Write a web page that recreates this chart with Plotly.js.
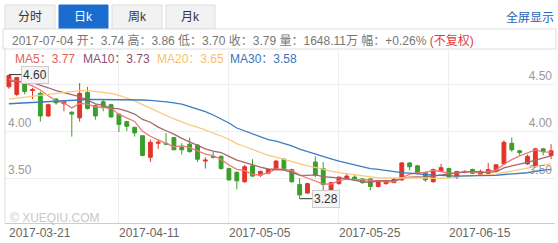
<!DOCTYPE html>
<html><head><meta charset="utf-8">
<script src="https://cdn.plot.ly/plotly-3.0.1.min.js"></script>
<style>html,body{margin:0;padding:0;background:#fff;}#chart{width:558px;height:243px;}</style>
</head><body><div id="chart"></div>
<script>
const dates = ['2017-03-21','2017-03-22','2017-03-23','2017-03-24','2017-03-27','2017-03-28','2017-03-29','2017-03-30','2017-03-31','2017-04-03','2017-04-05','2017-04-06','2017-04-07','2017-04-10','2017-04-11','2017-04-12','2017-04-13','2017-04-18','2017-04-19','2017-04-20','2017-04-21','2017-04-24','2017-04-25','2017-04-26','2017-04-27','2017-04-28','2017-05-02','2017-05-04','2017-05-05','2017-05-08','2017-05-09','2017-05-10','2017-05-11','2017-05-12','2017-05-15','2017-05-16','2017-05-17','2017-05-18','2017-05-19','2017-05-22','2017-05-23','2017-05-24','2017-05-25','2017-05-26','2017-05-29','2017-05-31','2017-06-01','2017-06-02','2017-06-05','2017-06-06','2017-06-07','2017-06-08','2017-06-09','2017-06-12','2017-06-13','2017-06-14','2017-06-15','2017-06-16','2017-06-19','2017-06-20','2017-06-21','2017-06-22','2017-06-23','2017-06-26','2017-06-27','2017-06-28','2017-06-29','2017-06-30','2017-07-03','2017-07-04'];
const open  = [4.47,4.39,4.56,4.43,4.40,4.16,4.34,4.29,4.20,4.14,4.41,4.27,4.31,4.28,4.18,4.10,4.04,3.95,3.72,3.87,3.87,3.93,3.83,3.86,3.85,3.68,3.73,3.73,3.60,3.56,3.46,3.63,3.53,3.55,3.59,3.70,3.59,3.43,3.34,3.67,3.60,3.35,3.44,3.49,3.51,3.49,3.49,3.41,3.44,3.45,3.48,3.66,3.63,3.56,3.46,3.57,3.60,3.51,3.56,3.59,3.54,3.55,3.57,3.65,3.87,3.79,3.65,3.62,3.81,3.74];
const high  = [4.60,4.57,4.58,4.46,4.42,4.29,4.35,4.31,4.21,4.51,4.47,4.28,4.34,4.29,4.19,4.10,4.04,3.95,3.91,3.91,3.98,3.93,3.87,3.93,3.86,3.72,3.78,3.74,3.61,3.57,3.64,3.70,3.58,3.60,3.69,3.71,3.60,3.50,3.45,3.73,3.67,3.46,3.51,3.55,3.53,3.50,3.50,3.48,3.48,3.50,3.67,3.67,3.64,3.57,3.60,3.65,3.61,3.57,3.58,3.60,3.59,3.66,3.65,3.90,3.93,3.80,3.75,3.82,3.82,3.86];
const low   = [4.45,4.37,4.39,4.34,4.10,4.15,4.28,4.21,3.94,4.10,4.23,4.12,4.21,4.14,3.99,4.00,3.94,3.73,3.67,3.81,3.85,3.80,3.75,3.77,3.67,3.60,3.71,3.59,3.47,3.38,3.45,3.51,3.51,3.54,3.58,3.59,3.45,3.28,3.33,3.51,3.35,3.34,3.43,3.48,3.48,3.44,3.37,3.40,3.43,3.45,3.47,3.58,3.54,3.46,3.45,3.56,3.50,3.49,3.55,3.54,3.53,3.54,3.56,3.64,3.78,3.74,3.64,3.61,3.74,3.70];
const close = [4.59,4.57,4.42,4.44,4.16,4.28,4.30,4.31,4.18,4.40,4.24,4.16,4.26,4.15,4.07,4.05,3.98,3.74,3.88,3.88,3.86,3.80,3.80,3.78,3.70,3.69,3.72,3.60,3.48,3.47,3.62,3.52,3.57,3.59,3.68,3.60,3.46,3.32,3.44,3.53,3.43,3.45,3.51,3.52,3.49,3.45,3.41,3.47,3.47,3.49,3.66,3.62,3.55,3.48,3.59,3.61,3.51,3.57,3.57,3.55,3.57,3.59,3.64,3.88,3.80,3.77,3.73,3.81,3.78,3.79];
const ma5  = [4.55,4.53,4.51,4.48,4.436,4.374,4.32,4.298,4.246,4.294,4.286,4.258,4.248,4.242,4.176,4.138,4.102,3.998,3.944,3.906,3.868,3.832,3.844,3.824,3.788,3.754,3.738,3.698,3.638,3.592,3.578,3.538,3.532,3.554,3.596,3.592,3.58,3.53,3.50,3.47,3.436,3.434,3.472,3.488,3.48,3.484,3.476,3.468,3.458,3.458,3.50,3.542,3.558,3.56,3.58,3.57,3.548,3.552,3.57,3.562,3.554,3.57,3.584,3.646,3.696,3.736,3.764,3.798,3.778,3.776];
const ma10 = [4.53,4.53,4.525,4.515,4.49,4.46,4.43,4.41,4.39,4.365,4.33,4.289,4.273,4.244,4.235,4.212,4.18,4.123,4.093,4.041,4.003,3.967,3.921,3.884,3.847,3.811,3.785,3.771,3.731,3.69,3.666,3.638,3.615,3.596,3.594,3.585,3.559,3.531,3.527,3.533,3.514,3.507,3.501,3.494,3.475,3.46,3.455,3.47,3.473,3.469,3.492,3.509,3.513,3.509,3.519,3.535,3.545,3.555,3.565,3.571,3.562,3.559,3.568,3.608,3.629,3.645,3.667,3.691,3.712,3.736];
const ma20 = [4.34,4.35,4.36,4.37,4.38,4.39,4.40,4.41,4.42,4.43,4.43,4.42,4.41,4.40,4.38,4.35,4.32,4.28,4.24,4.203,4.167,4.128,4.097,4.064,4.041,4.012,3.983,3.947,3.912,3.866,3.835,3.803,3.768,3.74,3.721,3.698,3.672,3.651,3.629,3.612,3.59,3.573,3.558,3.545,3.535,3.523,3.507,3.501,3.50,3.501,3.503,3.508,3.507,3.502,3.497,3.498,3.50,3.513,3.519,3.52,3.527,3.534,3.541,3.559,3.574,3.59,3.606,3.623,3.639,3.654];
const ma30 = [4.29,4.295,4.30,4.305,4.31,4.315,4.32,4.325,4.33,4.33,4.335,4.335,4.335,4.335,4.335,4.335,4.33,4.33,4.325,4.32,4.31,4.30,4.285,4.26,4.235,4.205,4.17,4.13,4.085,4.032,4.0,3.965,3.936,3.908,3.892,3.869,3.841,3.808,3.784,3.755,3.728,3.704,3.679,3.658,3.639,3.619,3.60,3.591,3.577,3.564,3.557,3.551,3.543,3.533,3.529,3.527,3.52,3.519,3.522,3.524,3.523,3.525,3.527,3.537,3.541,3.547,3.556,3.572,3.583,3.592];
const maNames = ['MA5','MA10','MA20','MA30'];
const maLast = ['3.77','3.73','3.65','3.58'];
const tickDates = ['2017-03-21','2017-04-11','2017-05-05','2017-05-25','2017-06-15'];
const yTicks = ['3.50','4.00','4.50'];
const yTicksLeft = ['3.50','4.00'];
const tabs = ['分时','日k','周k','月k'];
const infoDate = '2017-07-04';
const infoKeys = ['开','高','低','收','量','幅'];
const infoVals = ['3.74','3.86','3.70','3.79','1648.11万','+0.26%'];
const infoNote = '(不复权)';
const fullText = '全屏显示';
const watermark = '© XUEQIU.COM';

const UP = '#e3342a', DOWN = '#3a9f2a';
const maColors = ['#ec7a78','#a4686f','#f9c97e','#3b7cc2'];
const maTextColors = ['#e0605a','#8e4f6f','#f7bf6e','#3b73b8'];
const FONT = 'Arial, "Liberation Sans", "Noto Sans CJK SC", sans-serif';

// pixel helpers (plot area: x 5..555, y 47..223)
const L=5, T=47, PW=550, PH=176;
const px = v => (v - L) / PW;
const py = v => (T + PH - v) / PH;
const yr = [4.0 - 92/94, 4.0 + 84/94];

const traces = [{
  type:'candlestick', x:dates, open:open, high:high, low:low, close:close,
  increasing:{line:{color:UP,width:1}, fillcolor:UP},
  decreasing:{line:{color:DOWN,width:1}, fillcolor:DOWN},
  whiskerwidth:0, hoverinfo:'skip', showlegend:false
}];
[ma5,ma10,ma20,ma30].forEach((m,i)=>{
  traces.push({type:'scatter', mode:'lines', x:dates, y:m, yaxis: i===3?'y2':'y',
    line:{color:maColors[i], width:1.3}, hoverinfo:'skip', showlegend:false});
});

const shapes = [];
const annotations = [];
const tabX = [[5,55],[59,108],[112,162],[166,215]];
tabs.forEach((t,i)=>{
  const sel = i===1;
  shapes.push({type:'rect', xref:'paper', yref:'paper', x0:px(tabX[i][0]), x1:px(tabX[i][1]), y0:py(29), y1:py(5),
    fillcolor: sel?'#1a6dcf':'#f2f2f2', line:{color: sel?'#1a6dcf':'#dddddd', width:1}, layer:'below'});
  annotations.push({xref:'paper', yref:'paper', x:px((tabX[i][0]+tabX[i][1])/2), y:py(17), text:t, showarrow:false,
    font:{family:FONT, size:12, color: sel?'#ffffff':'#333333'}, xanchor:'center', yanchor:'middle'});
});
// info box
shapes.push({type:'rect', xref:'paper', yref:'paper', x0:px(3), x1:px(556), y0:py(49), y1:py(29), fillcolor:'#ffffff', line:{color:'#dddddd', width:1}, layer:'below'});
// left border
shapes.push({type:'line', xref:'paper', yref:'paper', x0:0, x1:0, y0:0, y1:1, line:{color:'#dddddd', width:1}});

let info = '<span style="color:#777">' + infoDate + ' ';
infoKeys.forEach((k,i)=>{ info += k + '：' + infoVals[i] + ' '; });
info += '</span><span style="color:#e4393c">' + infoNote + '</span>';
annotations.push({xref:'paper', yref:'paper', x:px(10), y:py(40), text:info, showarrow:false, xanchor:'left', yanchor:'middle', font:{family:FONT, size:12, color:'#777'}});
annotations.push({xref:'paper', yref:'paper', x:px(556), y:py(17), text:fullText, showarrow:false, xanchor:'right', yanchor:'middle', font:{family:FONT, size:12, color:'#1f63b5'}});

const maX = [13,81,155,228];
maNames.forEach((n,i)=>{
  annotations.push({xref:'paper', yref:'paper', x:px(maX[i]), y:py(59), text:n+'：'+maLast[i], showarrow:false, xanchor:'left', yanchor:'middle', font:{family:FONT, size:12, color:maTextColors[i]}});
});
annotations.push({xref:'paper', yref:'paper', x:px(8), y:py(218), text:watermark, showarrow:false, xanchor:'left', yanchor:'middle', font:{family:FONT, size:12, color:'#c8c8c8'}});

// x-axis date labels, left-aligned at their gridline
tickDates.forEach(d=>{
  annotations.push({xref:'x', yref:'paper', x:d, y:py(233), text:d, showarrow:false, xanchor:'left', yanchor:'middle', xshift:-2,
    font:{family:FONT, size:12, color:'#666'}});
});

// max / min markers
let iMax = 0, iMin = 0;
high.forEach((v,i)=>{ if (v > high[iMax]) iMax = i; });
low.forEach((v,i)=>{ if (v < low[iMin]) iMin = i; });
[[iMax, high[iMax]], [iMin, low[iMin]]].forEach(([i,v])=>{
  annotations.push({x:dates[i], y:v, xref:'x', yref:'y', text:v.toFixed(2), showarrow:true, arrowhead:0, arrowwidth:1, arrowcolor:'#333',
    ax:26, ay:0, bgcolor:'#f4f4f4', bordercolor:'#cccccc', borderwidth:1, borderpad:1, font:{family:FONT, size:12, color:'#333'}});
});

const layout = {
  width:558, height:243, margin:{l:5, r:3, t:47, b:20},
  paper_bgcolor:'#ffffff', plot_bgcolor:'#ffffff', showlegend:false,
  font:{family:FONT},
  xaxis:{type:'category', categoryorder:'array', categoryarray:dates, range:[-0.5, dates.length-0.5],
    rangeslider:{visible:false}, tickmode:'array', tickvals:tickDates, ticktext:tickDates,
    showticklabels:false, showgrid:true, gridcolor:'#eeeeee', gridwidth:1,
    showline:true, linecolor:'#cccccc', linewidth:1, ticks:'', zeroline:false, fixedrange:true},
  yaxis:{range:yr, side:'right', tickmode:'array', tickvals:yTicks.map(Number), ticktext:yTicks,
    ticklabelposition:'inside top', showgrid:true, gridcolor:'#eeeeee', zeroline:false, ticks:'',
    tickfont:{family:FONT, size:12, color:'#999'}, showline:false},
  yaxis2:{range:yr, overlaying:'y', side:'left', tickmode:'array', tickvals:yTicksLeft.map(Number), ticktext:yTicksLeft,
    ticklabelposition:'inside top', showgrid:false, zeroline:false, ticks:'',
    tickfont:{family:FONT, size:12, color:'#999'}, showline:false},
  shapes:shapes, annotations:annotations
};
Plotly.newPlot('chart', traces, layout, {staticPlot:true, displayModeBar:false});
</script></body></html>
